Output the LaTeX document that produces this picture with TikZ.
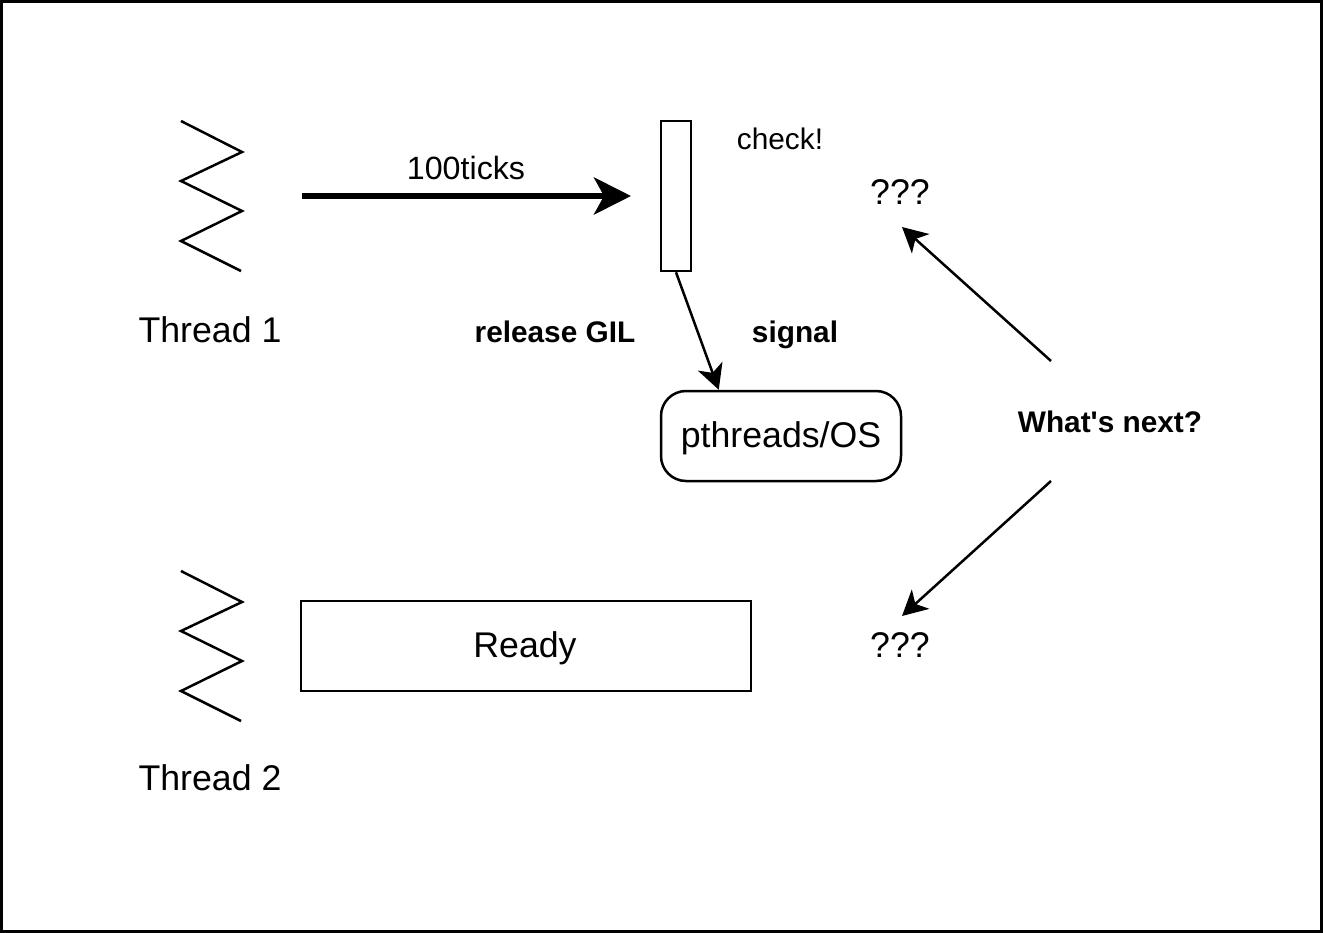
\documentclass[tikz,border=0pt]{standalone}
\usepackage{fontspec}
\setmainfont{Liberation Sans}[Ligatures=TeXOff]
\usetikzlibrary{arrows.meta,calc}
\begin{document}
\begin{tikzpicture}[x=1pt,y=-1pt,
  big/.style={font=\fontsize{35.7}{40}\selectfont, inner sep=0pt, anchor=base},
  small/.style={font=\fontsize{29.8}{34}\selectfont, inner sep=0pt, anchor=base},
  smallbold/.style={font=\fontsize{29.8}{34}\selectfont\bfseries, inner sep=0pt, anchor=base},
  zig/.style={line width=2.5pt, line join=miter},
  box/.style={draw, line width=2.5pt, inner sep=0pt},
  conn/.style={line width=2.5pt, -{Stealth[length=25pt,width=26pt,inset=7pt]}},
  thick conn/.style={line width=6pt, -{Stealth[length=37pt,width=37pt,inset=10pt]}}
]
\useasboundingbox (0,0) rectangle (1323,933);
\draw[line width=3pt] (1.5,1.5) rectangle (1321.5,931.5);

% thread zigzags
\draw[zig] (181,121) -- (242,152) -- (181,181) -- (242,211) -- (181,241) -- (241,271);
\draw[zig] (181,571) -- (242,602) -- (181,631) -- (242,661) -- (181,691) -- (241,721);
\node[big] (t1) at (210,342) {Thread 1};
\node[big] (t2) at (210,790) {Thread 2};

% check rectangle
\node[box, minimum width=30pt, minimum height=150pt] (chk) at (676,196) {};
\node[small] (chklbl) at (780,150) {check!};

% 100ticks arrow
\coordinate (a1) at (302,196);
\draw[thick conn] (a1) -- (chk.west -| 631,0);
\node[font=\fontsize{32.2}{36}\selectfont, inner sep=0pt, anchor=base] (ticks) at (466,180) {100ticks};

% pthreads
\node[box, rounded corners=25pt, minimum width=240pt, minimum height=90pt] (os) at (781,436) {};
\node[big] (oslbl) at (781,447) {pthreads/OS};
\coordinate (osin) at ($(os.north west)+(59,0)$);
\draw[conn] (chk.south) -- (osin);

\node[smallbold] (rel) at (555,342) {release GIL};
\node[smallbold] (sig) at (795,342) {signal};

% what's next
\node[smallbold] (next) at (1110,432) {What's next?};
\node[big] (q1) at (900,205) {???};
\node[big] (q2) at (900,657) {???};
\coordinate (n1) at (1051,361);
\coordinate (n2) at (1051,481);
\coordinate (q1in) at (902,227);
\coordinate (q2in) at (902,616);
\draw[conn] (n1) -- (q1in);
\draw[conn] (n2) -- (q2in);

% Ready
\node[box, minimum width=450pt, minimum height=90pt] (ready) at (526,646) {};
\node[big] (readylbl) at (525,657) {Ready};
\end{tikzpicture}
\end{document}
